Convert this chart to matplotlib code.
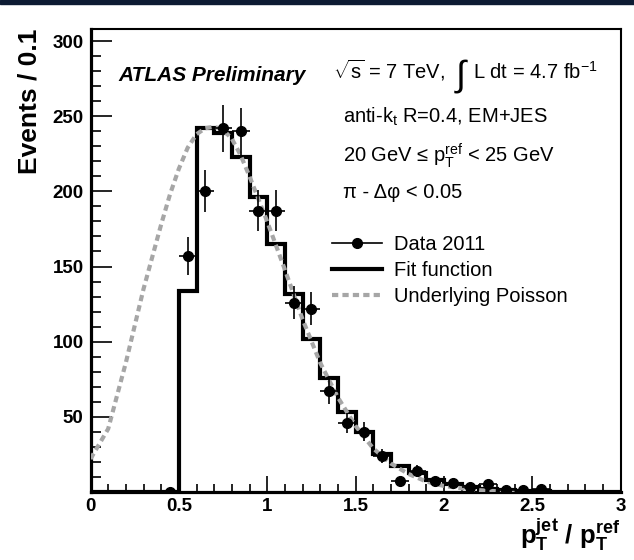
import numpy as np
import matplotlib.pyplot as plt
from matplotlib.lines import Line2D
from matplotlib.patches import Rectangle
from matplotlib.ticker import MultipleLocator, FixedLocator, FuncFormatter

plt.rcParams['font.family'] = ['Liberation Sans', 'DejaVu Sans']
plt.rcParams['mathtext.fontset'] = 'custom'
plt.rcParams['mathtext.rm'] = 'Liberation Sans'
plt.rcParams['mathtext.it'] = 'Liberation Sans'
plt.rcParams['mathtext.bf'] = 'Liberation Sans:bold'

# %% data
# fit function histogram, bins of 0.1 from 0 to 3
fit_edges = np.linspace(0, 3, 31)
fit_values = [0, 0, 0, 0, 0,
              134, 242, 239, 223, 196,
              165, 132, 102, 76, 53,
              40, 25, 17, 12.5, 8,
              5.5, 3.5, 2, 1.2, 0.7,
              0.4, 0.2, 0.1, 0, 0]

# underlying Poisson (gray dashed curve)
poisson_x = [0.0, 0.1, 0.2, 0.3, 0.4, 0.45, 0.5, 0.55, 0.6, 0.65, 0.7, 0.75,
             0.8, 0.85, 0.9, 1.0, 1.1, 1.2, 1.3, 1.4, 1.5, 1.6, 1.7, 1.8,
             1.9, 2.0, 2.1, 2.2, 2.3, 2.4]
poisson_y = [22, 42, 86, 135, 178, 198, 215, 229, 238, 242, 243, 241,
             235, 224, 210, 180, 148, 115, 86, 63, 44, 29, 19, 12,
             7, 4, 2.5, 1.2, 0.5, 0]

# Data 2011
data_x = [0.45, 0.55, 0.65, 0.75, 0.85, 0.95, 1.05, 1.15, 1.25, 1.35, 1.45,
          1.55, 1.65, 1.75, 1.85, 1.95, 2.05, 2.15, 2.25, 2.35, 2.45, 2.55]
data_y = [0, 157, 200, 242, 240, 187, 187, 126, 122, 67, 46,
          40, 24, 7, 14, 7, 6, 3, 5, 1, 1, 2]
data_yerr = [0, 12.5, 14, 15.5, 15.5, 13.7, 13.7, 11.2, 11, 8.2, 6.8,
             6.3, 4.9, 2.6, 3.7, 2.6, 2.4, 1.7, 2.2, 1, 1, 1.4]
bin_half = 0.05

xticks = [0, 0.5, 1, 1.5, 2, 2.5, 3]
yticks = [50, 100, 150, 200, 250, 300]

# %% figure
fig = plt.figure(figsize=(6.34, 5.6), dpi=100)
fig.patches.append(Rectangle((0, 1 - 3.5 / 560), 1, 3.5 / 560,
                             transform=fig.transFigure, color='#0d1b33'))
ax = fig.add_axes([90.5 / 634, 1 - 492 / 560, 530 / 634, 463 / 560])

ax.stairs(fit_values, fit_edges, color='black', lw=3, zorder=2)
ax.plot(poisson_x, poisson_y, color='#a6a6a6', lw=3, dashes=(1.5, 1), zorder=3)
ax.errorbar(data_x, data_y, yerr=data_yerr, xerr=bin_half, fmt='o',
            color='black', ms=7, elinewidth=1.2, capsize=0, zorder=4)

ax.set_xlim(0, 3)
ax.set_ylim(0, 308)

ax.xaxis.set_major_locator(FixedLocator(xticks))
ax.xaxis.set_minor_locator(MultipleLocator(0.1))
ax.yaxis.set_major_locator(FixedLocator(yticks))
ax.yaxis.set_minor_locator(MultipleLocator(10))
ax.xaxis.set_major_formatter(FuncFormatter(lambda v, p: f'{v:g}'))
ax.tick_params(axis='both', which='both', direction='in', top=False, right=False,
               labelsize=13.5, width=1.2, color='black')
ax.tick_params(axis='x', which='major', length=11.5, pad=4)
ax.tick_params(axis='x', which='minor', length=5.5)
ax.tick_params(axis='y', which='major', length=15, pad=5)
ax.tick_params(axis='y', which='minor', length=7.5)
for lab in ax.get_xticklabels() + ax.get_yticklabels():
    lab.set_fontweight('bold')

ax.spines['left'].set_linewidth(2.3)
ax.spines['bottom'].set_linewidth(2.3)
ax.spines['top'].set_linewidth(1.5)
ax.spines['right'].set_linewidth(1.5)

ax.set_ylabel('Events / 0.1', fontsize=19, fontweight='bold', loc='top', labelpad=8)
ax.set_xlabel(r'$\mathbf{p}_{\mathbf{T}}^{\mathbf{jet}}$ / $\mathbf{p}_{\mathbf{T}}^{\mathbf{ref}}$',
              fontsize=18.5, fontweight='bold', loc='right', labelpad=1)

# %% labels
ax.text(0.052, 0.888, 'ATLAS Preliminary', transform=ax.transAxes,
        fontsize=15, fontweight='bold', fontstyle='italic', va='baseline')
ax.text(0.4575, 0.8935, r'$\sqrt{s}$ = 7 TeV,', transform=ax.transAxes,
        fontsize=14.5, va='baseline')
ax.text(0.690, 0.878, '\u222b', transform=ax.transAxes,
        fontsize=26, va='baseline')
ax.text(0.7217, 0.8935, r'L dt = 4.7 fb$^{-1}$', transform=ax.transAxes,
        fontsize=14.5, va='baseline')
ax.text(0.477, 0.797, r'anti-k$_{t}$ R=0.4, EM+JES', transform=ax.transAxes,
        fontsize=14.5, va='baseline')
ax.text(0.477, 0.7134, '20 GeV \u2264 p$_{T}^{ref}$ < 25 GeV', transform=ax.transAxes,
        fontsize=14.5, va='baseline')
ax.text(0.477, 0.635, '\u03c0 - \u0394\u03c6 < 0.05', transform=ax.transAxes,
        fontsize=14.5, va='baseline')

handles = [Line2D([], [], color='black', lw=1.2, marker='o', ms=7),
           Line2D([], [], color='black', lw=3),
           Line2D([], [], color='#a6a6a6', lw=3, dashes=(1.5, 1))]
labels = ['Data 2011', 'Fit function', 'Underlying Poisson']
ax.legend(handles, labels, loc='upper left', bbox_to_anchor=(0.455, 0.555),
          frameon=False, fontsize=14.5, handlelength=2.5, handletextpad=0.6,
          labelspacing=0.35, borderaxespad=0, borderpad=0)

fig.savefig('out.png', dpi=100)
